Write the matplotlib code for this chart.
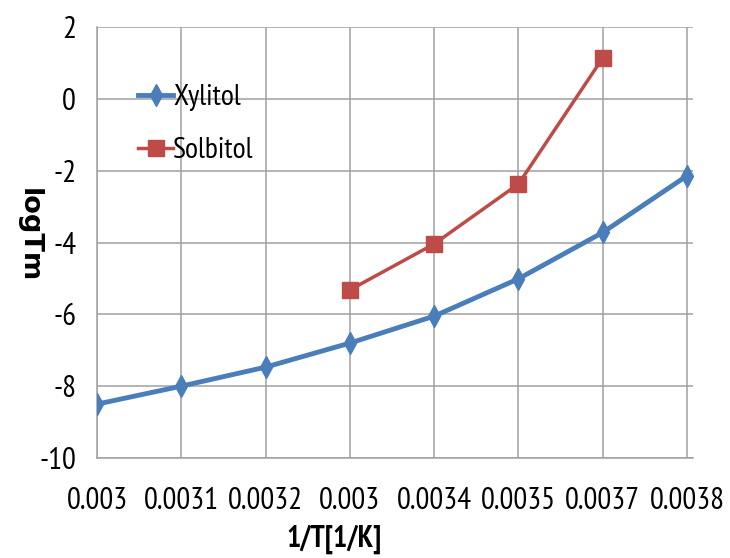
import matplotlib
matplotlib.use("Agg")
import matplotlib.pyplot as plt
from matplotlib import font_manager as fm
from matplotlib.textpath import TextPath
import numpy as np

categories = ["0.003", "0.0031", "0.0032", "0.003", "0.0034", "0.0035", "0.0037", "0.0038"]
xylitol = [-8.5, -8.0, -7.47, -6.8, -6.05, -5.01, -3.72, -2.14]
solbitol = [np.nan, np.nan, np.nan, -5.32, -4.04, -2.37, 1.14, np.nan]
yticks = [-10, -8, -6, -4, -2, 0, 2]

DPI = 100
candidates = ["Carlito", "Roboto Condensed", "Fira Sans Condensed", "Fira Sans Extra Condensed",
              "Sofia Sans Condensed", "Sofia Sans Extra Condensed", "Open Sans Condensed",
              "Barlow Condensed", "PT Sans Narrow", "Archivo Narrow", "IBM Plex Sans Condensed"]


def exists(f, weight="normal"):
    try:
        fm.findfont(fm.FontProperties(family=f, weight=weight), fallback_to_default=False)
        return True
    except Exception:
        return False


def extents(s, f, weight="normal"):
    e = TextPath((0, 0), s, size=10, prop=fm.FontProperties(family=f, weight=weight)).get_extents()
    return e.width, e.height


target_ratio = 60 / 19.0
best, bestd = "DejaVu Sans", 1e9
for f in candidates:
    if exists(f):
        w, h = extents("0.0031", f)
        d = abs(np.log((w / h) / target_ratio))
        if d < bestd:
            best, bestd = f, d
font = best


def size_for(s, px, f, weight="normal"):
    w, _ = extents(s, f, weight)
    return 10 * px / (w * DPI / 72.0)


tick_fs = size_for("0.0031", 60, font) * 1.2
leg_fs = size_for("Xylitol", 64, font) * 1.05
xl_fs = size_for("1/T[1/K]", 102, font, "bold") * 0.91
yl_fs = size_for("logTm", 90, "DejaVu Sans", "bold")

fig = plt.figure(figsize=(7.3, 5.58), dpi=DPI)
ax = fig.add_axes([97 / 730, 1 - 458 / 558, (693 - 97) / 730, (458 - 27) / 558])

x = np.arange(len(categories))
ax.plot(x, xylitol, color="#4A7EBB", lw=3.5, marker="d", ms=11, label="Xylitol", zorder=3)
ax.plot(x, solbitol, color="#BE4B48", lw=2.5, marker="s", ms=11, label="Solbitol", zorder=3)

ax.set_xlim(0, len(categories) - 1 + 0.07)
ax.set_ylim(-10, 2)
ax.set_yticks(yticks)
ax.set_xticks(x)
ax.set_xticklabels(categories, fontfamily=font, fontsize=tick_fs)
ax.set_yticklabels([str(v) for v in yticks], fontfamily=font, fontsize=tick_fs)
ax.grid(True, color="#A0A0A0", lw=1.1)
ax.set_axisbelow(True)
for s in ["top", "right"]:
    ax.spines[s].set_visible(False)
for s in ["left", "bottom"]:
    ax.spines[s].set_color("#A0A0A0")
    ax.spines[s].set_linewidth(1.1)
ax.tick_params(axis="x", length=0, pad=21)
ax.tick_params(axis="y", length=0, pad=15)

ax.set_xlabel("1/T[1/K]", fontfamily=font, fontsize=xl_fs, fontweight="bold")
ax.xaxis.label.set_va("center")
ax.xaxis.set_label_coords((334 - 97) / 596, -(539 - 458) / 431)
ax.set_ylabel("logTm", fontfamily="DejaVu Sans", fontsize=yl_fs, fontweight="bold", rotation=270)
ax.yaxis.label.set_va("center")
ax.yaxis.set_label_coords((29 - 97) / 596, 1 - (235 - 27) / 431)

fs_px = leg_fs * DPI / 72.0
leg = ax.legend(loc="upper left", bbox_to_anchor=((138 - 97) / 596, 1 - (84 - 27) / 431),
                frameon=False, prop={"family": font, "size": leg_fs},
                handlelength=35 / fs_px, handletextpad=0.0,
                labelspacing=max(0.1, (51 - 1.17 * fs_px) / fs_px) + 0.35,
                borderaxespad=0, borderpad=0)

fig.savefig("out.png", dpi=DPI)
